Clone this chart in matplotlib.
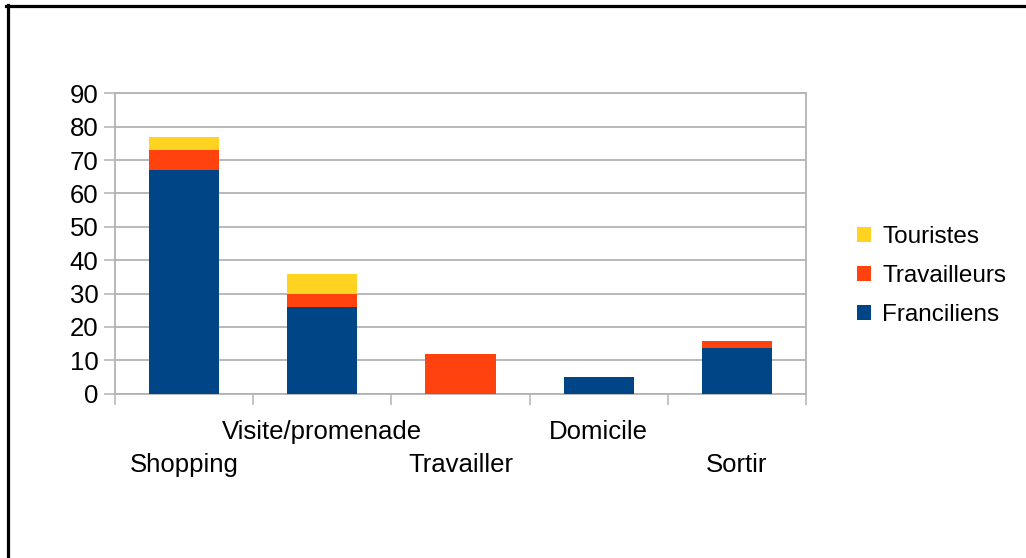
import numpy as np
import matplotlib.pyplot as plt
from matplotlib.lines import Line2D

plt.rcParams['font.family'] = ['Liberation Sans', 'DejaVu Sans']

categories = ['Shopping', 'Visite/promenade', 'Travailler', 'Domicile', 'Sortir']
franciliens = [67, 26, 0, 5, 13.7]
travailleurs = [6, 4, 12, 0, 2.1]
touristes = [4, 6, 0, 0, 0]

blue = '#004586'
orange = '#ff420e'
yellow = '#ffd320'
grey = '#b3b3b3'

W, H = 1026, 558
fig = plt.figure(figsize=(W / 100, H / 100), dpi=100)
ax = fig.add_axes([115 / W, 1 - 393.7 / H, 691 / W, 300.4 / H])

x = np.arange(len(categories))
fr = np.array(franciliens)
tr = np.array(travailleurs)
to = np.array(touristes)
bw = 0.507
b1 = ax.bar(x, fr, bw, color=blue, label='Franciliens', zorder=3)
b2 = ax.bar(x, tr, bw, bottom=fr, color=orange, label='Travailleurs', zorder=3)
b3 = ax.bar(x, to, bw, bottom=fr + tr, color=yellow, label='Touristes', zorder=3)

ax.set_xlim(-0.5, len(categories) - 0.5)
ax.set_ylim(0, 90)
ax.set_yticks(range(0, 91, 10))
ax.yaxis.grid(True, color=grey, linewidth=1.3, zorder=0)
ax.set_xticks(np.arange(-0.5, len(categories), 1))
ax.set_xticklabels([])
ax.tick_params(axis='both', direction='out', length=8, width=1.1, color=grey)
ax.tick_params(axis='y', labelsize=18.5, pad=4)
for s in ax.spines.values():
    s.set_color(grey)
    s.set_linewidth(1.3)

trans = ax.get_xaxis_transform()
for i, c in enumerate(categories):
    yy = -0.127 if i % 2 == 1 else -0.237
    ax.text(i, yy, c, transform=trans, ha='center', va='center', fontsize=18.5)

ax.legend([b3, b2, b1], ['Touristes', 'Travailleurs', 'Franciliens'],
          loc='center left', bbox_to_anchor=(835 / W, 1 - 276 / H),
          bbox_transform=fig.transFigure, frameon=False, fontsize=17.5,
          handlelength=0.6, handleheight=0.6, handletextpad=0.45,
          labelspacing=0.7)

# partial frame around the chart
fig.add_artist(Line2D([7.5 / W, 7.5 / W], [0, 1 - 5 / H], color='black',
                      linewidth=2.3, transform=fig.transFigure))
fig.add_artist(Line2D([6 / W, 1], [1 - 6 / H, 1 - 6 / H], color='black',
                      linewidth=2.3, transform=fig.transFigure))

fig.savefig('out.png', dpi=100)
